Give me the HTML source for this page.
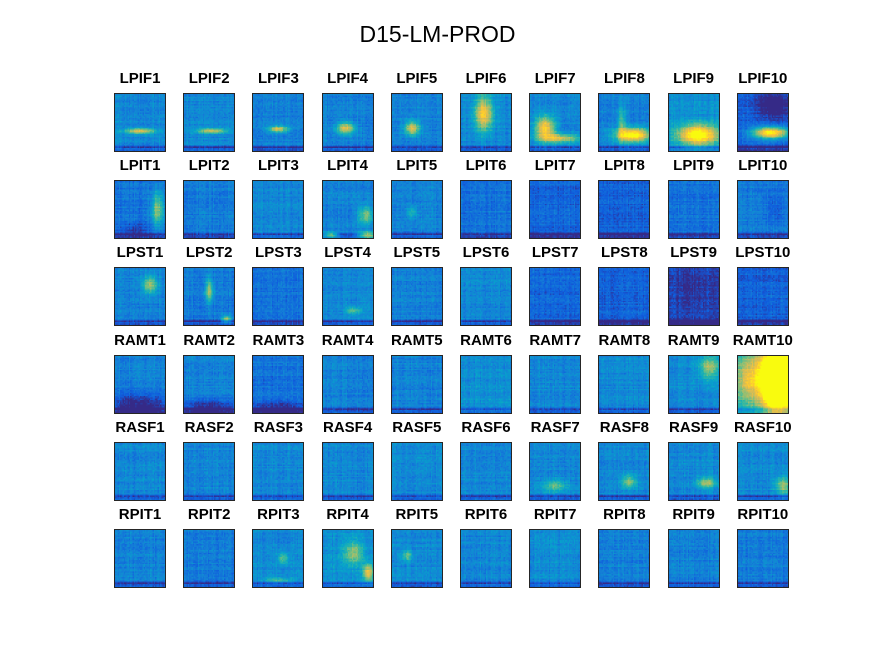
<!DOCTYPE html>
<html><head><meta charset="utf-8"><style>
body{margin:0;background:#fff;}
#fig{position:relative;width:875px;height:656px;background:#fff;font-family:"Liberation Sans",Arial,sans-serif;overflow:hidden;}
.t{position:absolute;font-weight:bold;font-size:15px;color:#000;text-align:center;width:90px;}
canvas{position:absolute;border:1px solid #262626;box-sizing:border-box;image-rendering:pixelated;}
#title{position:absolute;left:0;width:875px;top:21px;text-align:center;font-size:23px;color:#000;}
</style></head><body>
<div id="fig">
<div id="title">D15-LM-PROD</div>
</div>
<script>
const rowNames=["LPIF","LPIT","LPST","RAMT","RASF","RPIT"];
const colNums=[1,2,3,4,5,6,7,8,9,10];
const baseVals=[
.32,.32,.3,.3,.3,.32,.3,.3,.35,.2,
.25,.28,.32,.3,.3,.25,.2,.2,.25,.28,
.3,.28,.25,.32,.3,.32,.22,.2,.12,.2,
.3,.3,.25,.3,.3,.35,.32,.33,.33,.5,
.32,.32,.32,.32,.32,.32,.32,.32,.32,.32,
.3,.28,.33,.35,.33,.32,.33,.3,.3,.28];
// blobs: [panelIndex, cx, cy, rx, ry, amplitude]
const blobs=[
[0,.5,.65,.3,.05,.55],[1,.55,.65,.3,.04,.5],[2,.5,.62,.2,.06,.5],[3,.45,.6,.18,.1,.55],
[4,.4,.6,.15,.12,.55],[5,.45,.35,.18,.3,.6],[6,.3,.6,.2,.2,.65],[6,.6,.78,.4,.08,.5],
[7,.68,.72,.35,.12,.8],[7,.45,.5,.08,.3,.3],[8,.58,.72,.4,.18,.8],[9,.7,.2,.35,.25,-.25],[9,.65,.68,.35,.1,.85],
[10,.85,.5,.12,.3,.45],[10,.4,.85,.3,.1,-.15],[13,.85,.6,.15,.15,.4],[13,.9,.95,.2,.06,.6],[13,.15,.95,.15,.05,.5],[14,.4,.55,.1,.1,.2],[19,.75,.5,.2,.3,-.1],
[20,.7,.3,.15,.15,.4],[21,.5,.4,.08,.2,.4],[21,.85,.9,.1,.06,.5],[23,.6,.75,.15,.06,.3],[28,.5,.4,.4,.3,-.05],
[30,.5,.85,.6,.2,-.3],[31,.5,.9,.6,.15,-.25],[32,.5,.9,.6,.12,-.2],[38,.8,.2,.2,.2,.4],[39,.8,.4,.32,.5,1.8],[39,.2,.4,.25,.35,.35],
[46,.5,.75,.25,.1,.3],[47,.6,.68,.15,.12,.35],[48,.75,.7,.2,.1,.4],[49,.9,.75,.15,.15,.4],
[52,.6,.5,.1,.1,.3],[52,.5,.88,.3,.04,.3],[53,.6,.4,.2,.2,.35],[53,.9,.75,.1,.15,.55],[54,.3,.45,.1,.1,.3]];
const bottomDark=-.22;
const baseShift=-.05;

const cmap=[[53,42,135],[15,92,221],[20,129,214],[6,164,202],[46,183,164],[135,191,119],[209,187,89],[254,200,50],[249,251,14]];
function parula(v){v=Math.max(0,Math.min(1,v))*(cmap.length-1);const i=Math.min(cmap.length-2,Math.floor(v)),f=v-i;
return cmap[i].map((c,k)=>Math.round(c+(cmap[i+1][k]-c)*f));}
function hash(a,b){let h=(a*374761393+b*668265263)|0;h=(h^(h>>>13))*1274126177|0;return ((h^(h>>>16))>>>0)/4294967296;}
function xPos(c){return 114+c*69.2;}
function yPos(r){return 93+r*87.2;}
const fig=document.getElementById('fig');
const N=40;
rowNames.forEach((rn,r)=>{colNums.forEach((cn,c)=>{
  const idx=r*10+c;
  const lab=document.createElement('div');lab.className='t';
  lab.textContent=rn+cn;
  lab.style.left=(xPos(c)+26-45)+'px';lab.style.top=(yPos(r)-23)+'px';
  
  
  fig.appendChild(lab);
  const cv=document.createElement('canvas');cv.width=N;cv.height=N;
  cv.style.left=xPos(c)+'px';cv.style.top=yPos(r)+'px';cv.style.width='52px';cv.style.height='59px';
  
  
  const ctx=cv.getContext('2d');const img=ctx.createImageData(N,N);
  for(let y=0;y<N;y++)for(let x=0;x<N;x++){
    const fx=(x+.5)/N,fy=(y+.5)/N;let v=baseVals[idx]+baseShift;
    blobs.forEach(b=>{if(b[0]!==idx)return;const dx=(fx-b[1])/b[3],dy=(fy-b[2])/b[4];v+=b[5]*Math.exp(-(dx*dx+dy*dy));});
    if(y>=N-4)v+=bottomDark*(y===N-3?1:0.55);
    v+=0.07*(hash(idx*97+x,1)-.5)+0.07*(hash(idx*89+y,2)-.5)+0.1*(hash(idx*1000+x,y)-.5);
    const col=parula(v);const p=(y*N+x)*4;img.data[p]=col[0];img.data[p+1]=col[1];img.data[p+2]=col[2];img.data[p+3]=255;}
  ctx.putImageData(img,0,0);
  fig.appendChild(cv);
});});
</script>
</body></html>
